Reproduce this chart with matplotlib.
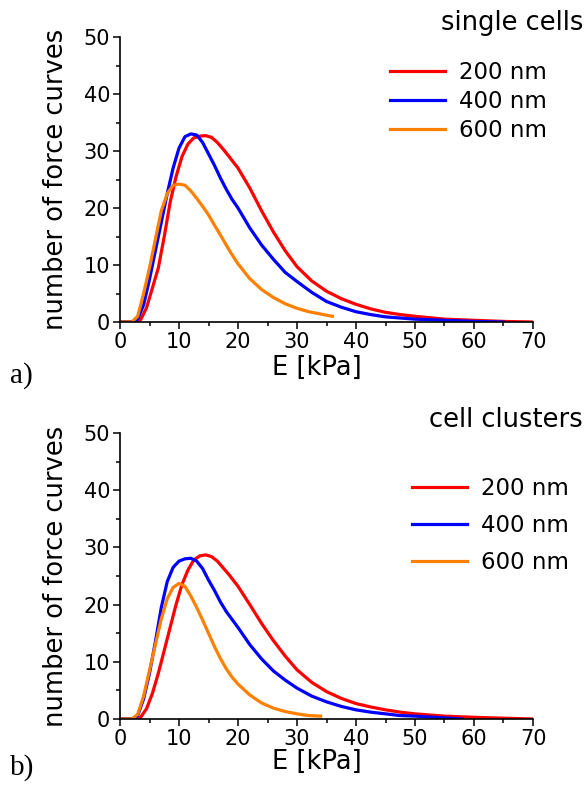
import numpy as np
import matplotlib.pyplot as plt
from matplotlib.ticker import MultipleLocator

plt.rcParams['font.family'] = ['DejaVu Sans']

# E [kPa] / number of force curves, single cells
a_200_x = [0, 2.5, 3.5, 4.5, 5.5, 6.5, 7.5, 8.5, 9.5, 10.5, 11.5, 12.5, 13.5, 14.5, 15.5, 16.5, 17.5, 18.5,
           20, 22, 24, 26, 28, 30, 32.5, 35, 37.5, 40, 42.5, 45, 47.5, 50, 55, 60, 65, 70]
a_200_y = [0, 0, 0.4, 2.5, 6, 9.5, 15, 21, 25.5, 29, 31.2, 32.3, 32.6, 32.7, 32.4, 31.5, 30.3, 29,
           27, 23.5, 19.5, 15.8, 12.5, 9.7, 7.2, 5.4, 4.1, 3.1, 2.3, 1.7, 1.3, 1.0, 0.5, 0.3, 0.1, 0]

a_400_x = [0, 2, 3, 4, 5, 6, 7, 8, 9, 10, 11, 12, 13, 14, 15, 16, 17, 18, 19, 20,
           22, 24, 26, 28, 30, 32.5, 35, 37.5, 40, 42.5, 45, 50, 55, 60, 65]
a_400_y = [0, 0, 0.5, 3, 7.5, 12.5, 17.5, 22.5, 27, 30.5, 32.5, 33, 32.8, 31.5, 29.5, 27.5, 25.3, 23.3, 21.5, 20,
           16.5, 13.5, 11, 8.7, 7.1, 5.2, 3.6, 2.6, 1.8, 1.3, 0.9, 0.5, 0.3, 0.1, 0]

a_600_x = [0, 2, 3, 4, 5, 6, 7, 8, 9, 10, 11, 12, 13, 14, 15, 16, 17, 18, 19, 20,
           22, 24, 26, 28, 30, 32, 34, 36]
a_600_y = [0, 0, 1, 5, 9.5, 14.5, 19.5, 22.5, 24, 24.2, 24, 23, 21.7, 20.3, 18.8, 17, 15.3, 13.5, 11.8, 10.2,
           7.6, 5.7, 4.3, 3.2, 2.4, 1.8, 1.4, 1.0]

# cell clusters
b_200_x = [0, 2.5, 3.5, 4.5, 5.5, 6.5, 7.5, 8.5, 9.5, 10.5, 11.5, 12.5, 13.5, 14.5, 15.5, 16.5, 17.5, 18.5,
           20, 22, 24, 26, 28, 30, 32.5, 35, 37.5, 40, 42.5, 45, 47.5, 50, 55, 60, 63, 70]
b_200_y = [0, 0, 0.3, 1.8, 4.5, 8, 12, 16, 20, 23.5, 26, 27.8, 28.5, 28.7, 28.4, 27.6, 26.4, 25.2,
           23.2, 20, 16.7, 13.7, 11, 8.6, 6.4, 4.8, 3.6, 2.7, 2.1, 1.6, 1.2, 0.9, 0.5, 0.3, 0.2, 0]

b_400_x = [0, 2, 3, 4, 5, 6, 7, 8, 9, 10, 11, 12, 13, 14, 15, 16, 17, 18, 19, 20,
           22, 24, 26, 28, 30, 32.5, 35, 37.5, 40, 42.5, 45, 47.5, 50, 55, 58]
b_400_y = [0, 0, 0.6, 3.5, 8, 13.5, 19.5, 24, 26.5, 27.6, 28, 28.1, 27.6, 26.3, 24.3, 22.5, 20.5, 18.8, 17.4, 16,
           13, 10.5, 8.4, 6.8, 5.4, 4, 3, 2.2, 1.6, 1.2, 0.9, 0.6, 0.5, 0.2, 0]

b_600_x = [0, 2, 3, 4, 5, 6, 7, 8, 9, 10, 11, 12, 13, 14, 15, 16, 17, 18, 19, 20,
           22, 24, 26, 28, 30, 32, 34]
b_600_y = [0, 0, 0.8, 4, 8.5, 13, 17.5, 21, 23, 23.7, 23.2, 21.5, 19.5, 17.3, 15, 12.7, 10.6, 8.8, 7.3, 6.1,
           4.2, 2.8, 1.9, 1.3, 0.9, 0.6, 0.5]

labels = ['200 nm', '400 nm', '600 nm']
colors = ['#ff0000', '#0000ff', '#ff8000']

W, H = 587, 787
fig = plt.figure(figsize=(W / 100, H / 100), dpi=100)

def px_axes(left, right, top, bottom):
    return fig.add_axes([left / W, 1 - bottom / H, (right - left) / W, (bottom - top) / H])

ax_a = px_axes(120, 533, 37, 322)
ax_b = px_axes(120, 533, 433, 719)

panels = [
    (ax_a, [(a_200_x, a_200_y), (a_400_x, a_400_y), (a_600_x, a_600_y)]),
    (ax_b, [(b_200_x, b_200_y), (b_400_x, b_400_y), (b_600_x, b_600_y)]),
]

for ax, curves in panels:
    for (x, y), lab, c in zip(curves, labels, colors):
        ax.plot(x, y, color=c, lw=2.3, label=lab, solid_joinstyle='round')
    ax.set_xlim(0, 70)
    ax.set_ylim(0, 50)
    ax.xaxis.set_major_locator(MultipleLocator(10))
    ax.xaxis.set_minor_locator(MultipleLocator(5))
    ax.yaxis.set_major_locator(MultipleLocator(10))
    ax.yaxis.set_minor_locator(MultipleLocator(5))
    ax.tick_params(which='major', direction='out', length=5, width=1.1, labelsize=15, pad=2)
    ax.tick_params(which='minor', direction='out', length=3, width=1.1)
    for s in ['top', 'right']:
        ax.spines[s].set_visible(False)
    for s in ['left', 'bottom']:
        ax.spines[s].set_linewidth(1.2)
    ax.set_ylabel('number of force curves', fontsize=18.5, va='center', ha='center')
    ax.yaxis.set_label_coords(-0.155, 0.5)
    ax.set_xlabel('E [kPa]', fontsize=18.5, va='center', ha='center')

ax_a.xaxis.set_label_coords(0.477, -0.162)
ax_b.xaxis.set_label_coords(0.477, -0.150)

ax_a.legend(loc='upper left', bbox_to_anchor=(390 / W, 1 - 61 / H), bbox_transform=fig.transFigure,
            frameon=False, fontsize=16.5, handlelength=2.4, handletextpad=0.6, borderpad=0,
            labelspacing=0.27, borderaxespad=0)
ax_b.legend(loc='upper left', bbox_to_anchor=(412 / W, 1 - 477 / H), bbox_transform=fig.transFigure,
            frameon=False, fontsize=16.5, handlelength=2.4, handletextpad=0.6, borderpad=0,
            labelspacing=0.61, borderaxespad=0)

fig.text(583 / W, 1 - 23 / H, 'single cells', fontsize=18.5, ha='right', va='center')
fig.text(583 / W, 1 - 420 / H, 'cell clusters', fontsize=18.5, ha='right', va='center')
fig.text(10 / W, 1 - 376 / H, 'a)', fontsize=21, family='Liberation Serif', ha='left', va='center')
fig.text(10 / W, 1 - 768 / H, 'b)', fontsize=21, family='Liberation Serif', ha='left', va='center')

fig.savefig('out.png', dpi=100)
